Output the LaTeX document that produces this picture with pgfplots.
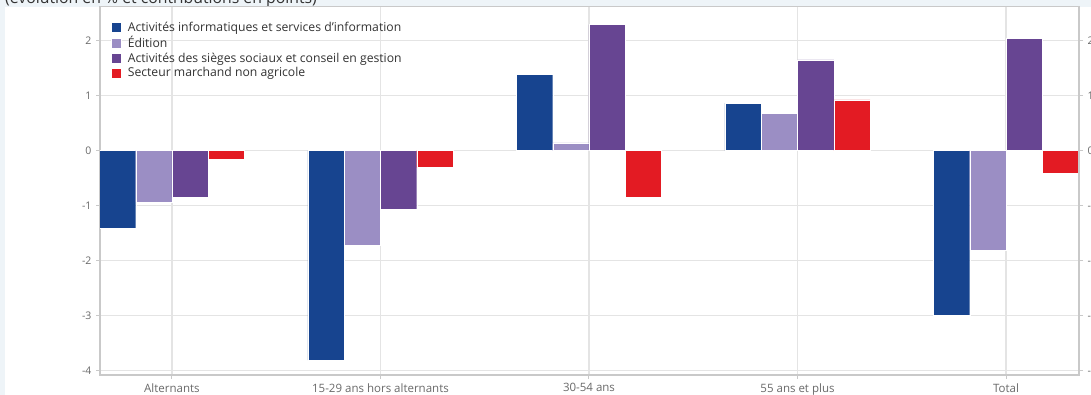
\documentclass[border=0pt]{standalone}
\usepackage{pgfplots}
\usepackage{pgfplotstable}
\pgfplotsset{compat=1.18}
\usepackage{fontspec}
\setmainfont{Open Sans}

\definecolor{cBlue}{HTML}{17448F}
\definecolor{cLilac}{HTML}{9B8EC4}
\definecolor{cPurple}{HTML}{674592}
\definecolor{cRed}{HTML}{E31B23}
\definecolor{bgBlue}{HTML}{EEF4F8}
\definecolor{gridGray}{HTML}{E4E4E4}
\definecolor{frameGray}{HTML}{C9C9C9}
\definecolor{tickText}{HTML}{6A6A6A}

% contributions par tranche d'âge (en points)
\pgfplotstableread{
x  info   edition sieges marchand
0  -1.42  -0.94   -0.85  -0.16
1  -3.81  -1.72   -1.07  -0.31
2   1.38   0.14    2.29  -0.85
3   0.86   0.68    1.65   0.92
4  -3.00  -1.81    2.04  -0.41
}\contrib

\begin{document}
\begin{tikzpicture}[x=1pt,y=1pt]
\useasboundingbox (0,0) rectangle (1091,395);
\fill[bgBlue] (0,0) rectangle (1091,395);
\fill[white] (5,0) rectangle (1091,388);
\node[anchor=base west, inner sep=0, text=black!80,
      font=\fontsize{15.8}{18}\selectfont] at (5,391.5)
  {(évolution en \% et contributions en points)};

\pgfplotsset{
  common/.style={
    at={(100pt,20pt)}, anchor=south west,
    scale only axis, width=979pt, height=368.3pt,
    xmin=-0.345, xmax=4.35, ymin=-4.082, ymax=2.615,
    ytick={-4,-3,-2,-1,0,1,2},
    /pgf/number format/assume math mode=true,
    tick label style={font=\fontsize{10.5}{12}\selectfont, text=tickText},
    major tick length=4pt,
    tick style={frameGray, line width=1pt},
    tick align=outside,
  }
}

\begin{axis}[common,
  ybar=0pt, bar width=0.174,
  axis line style={frameGray, line width=1.2pt},
  grid=major, grid style={gridGray, line width=1.2pt},
  xtick={0,1,2,3,4},
  xticklabels={Alternants, 15-29 ans hors alternants, 30-54 ans, 55 ans et plus, Total},
  xtick pos=bottom, ytick pos=left,
  yticklabel style={xshift=-1pt},
  xticklabel style={yshift=-1pt, font=\fontsize{11.5}{13}\selectfont},
  legend style={at={(0.008,0.968)}, anchor=north west, draw=none, fill=none,
    font=\fontsize{12.2}{14}\selectfont, text=black!80,
    row sep=0.6pt, cells={anchor=west},
    nodes={inner sep=1.5pt}},
  legend image code/.code={\fill[#1] (0pt,-5pt) rectangle (10pt,5pt);},
  /tikz/every odd column/.append style={column sep=5pt},
  legend cell align=left,
]
\addplot[fill=cBlue, draw=white, line width=0.3pt] table[x=x, y=info] {\contrib};
\addlegendentry{Activités informatiques et services d'information}
\addplot[fill=cLilac, draw=white, line width=0.3pt] table[x=x, y=edition] {\contrib};
\addlegendentry{Édition}
\addplot[fill=cPurple, draw=white, line width=0.3pt] table[x=x, y=sieges] {\contrib};
\addlegendentry{Activités des sièges sociaux et conseil en gestion}
\addplot[fill=cRed, draw=white, line width=0.3pt] table[x=x, y=marchand] {\contrib};
\addlegendentry{Secteur marchand non agricole}
\end{axis}

% axe secondaire à droite
\begin{axis}[common,
  axis x line=none, axis y line*=right,
  axis line style={frameGray, line width=1.2pt},
  yticklabel style={xshift=1pt},
]
\addplot[draw=none] coordinates {(0,0)};
\end{axis}
\end{tikzpicture}
\end{document}
